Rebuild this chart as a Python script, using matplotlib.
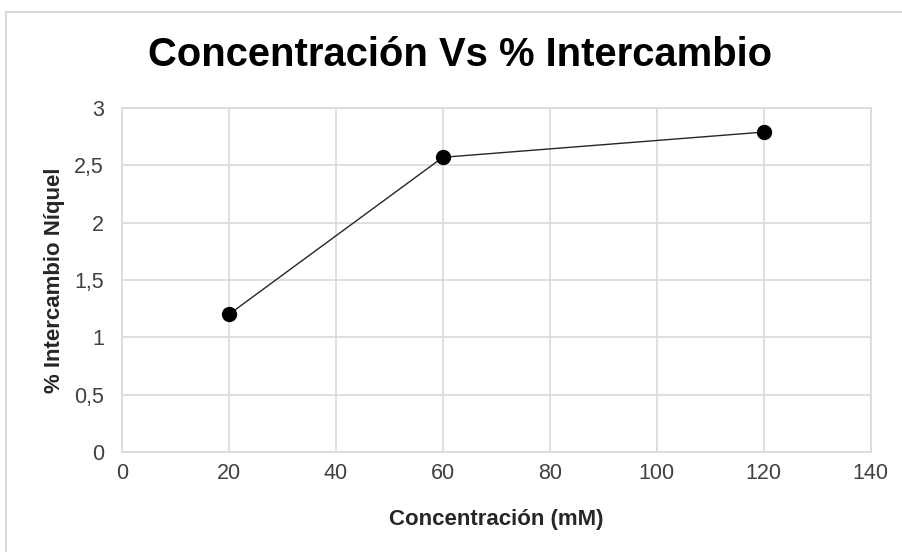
import matplotlib
matplotlib.use("Agg")
import matplotlib.pyplot as plt
from matplotlib.ticker import FuncFormatter
from matplotlib.lines import Line2D

concentracion = [20, 60, 120]
intercambio = [1.2, 2.57, 2.79]
x_ticks = [0, 20, 40, 60, 80, 100, 120, 140]
y_ticks = [0, 0.5, 1, 1.5, 2, 2.5, 3]
title = "Concentración Vs % Intercambio"
xlabel = "Concentración (mM)"
ylabel = "% Intercambio Níquel"

plt.rcParams['font.family'] = ['Liberation Sans', 'DejaVu Sans']

fig = plt.figure(figsize=(9.03, 5.52), dpi=100)
ax = fig.add_axes([122/903, 1-452/552, (870.5-122)/903, (452-108)/552])

# figure border (left and top visible)
fig.add_artist(Line2D([6/903, 6/903], [0, 1-12/552], transform=fig.transFigure, color='#d9d9d9', lw=1.5))
fig.add_artist(Line2D([6/903, 1], [1-12/552, 1-12/552], transform=fig.transFigure, color='#d9d9d9', lw=1.5))

ax.plot(concentracion, intercambio, color='#262626', lw=1.0, marker='o', markersize=10,
        markerfacecolor='black', markeredgecolor='black', zorder=3)

ax.set_xlim(0, 140)
ax.set_ylim(0, 3)
ax.set_xticks(x_ticks)
ax.set_yticks(y_ticks)
ax.yaxis.set_major_formatter(FuncFormatter(lambda v, p: ('%g' % v).replace('.', ',')))
ax.grid(True, color='#d9d9d9', lw=1.2)
ax.set_axisbelow(True)
for s in ax.spines.values():
    s.set_color('#d9d9d9')
    s.set_linewidth(1.2)
ax.tick_params(length=0, labelsize=15.5, colors='#404040')
ax.tick_params(axis='y', pad=13)
ax.tick_params(axis='x', pad=8)

ax.set_xlabel(xlabel, fontsize=16, fontweight='bold', color='#262626', va='center')
ax.xaxis.set_label_coords(0.5, (452-519)/344)
ax.set_ylabel(ylabel, fontsize=16, fontweight='bold', color='#262626', va='center')
ax.yaxis.set_label_coords((55-122)/748.5, 0.5)
fig.text(460/903, 1-55/552, title, ha='center', va='center', fontsize=28.8, fontweight='bold', color='black')

fig.savefig("out.png", dpi=100, facecolor='white')
